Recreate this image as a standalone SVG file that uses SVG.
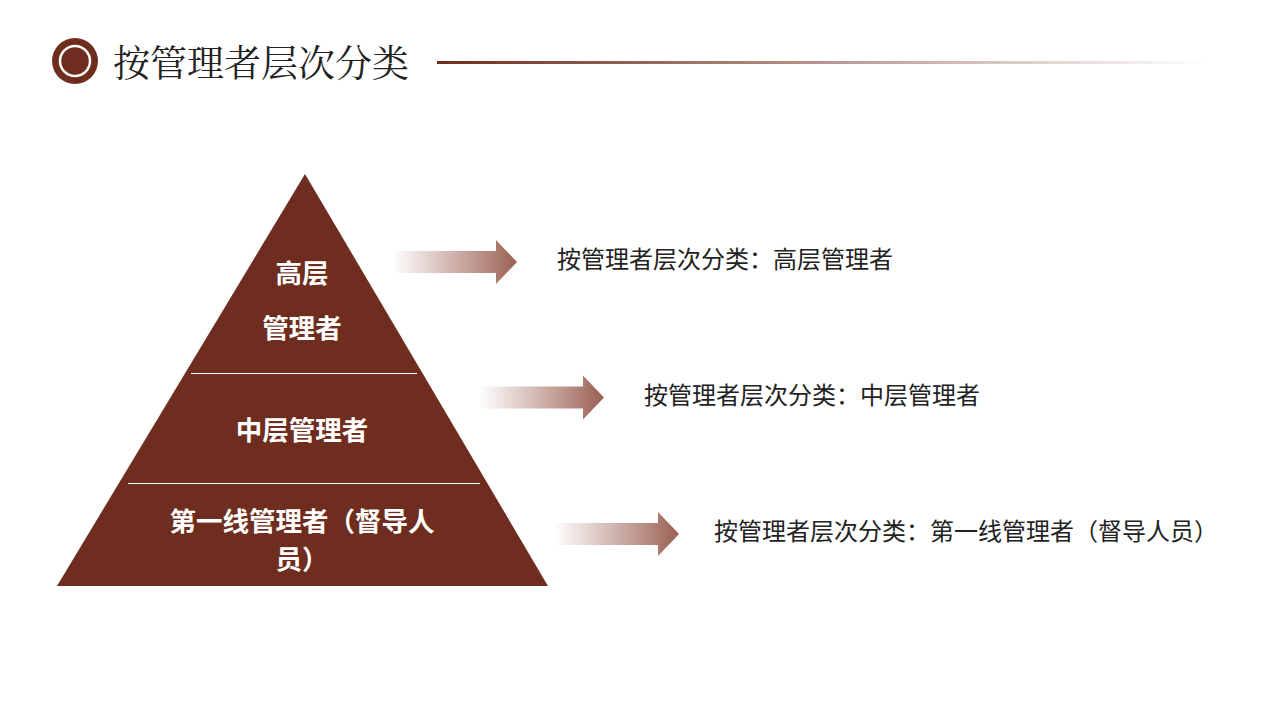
<svg xmlns="http://www.w3.org/2000/svg" width="1280" height="720" viewBox="0 0 1280 720">
<defs>
<linearGradient id="tl" x1="0" x2="1" y1="0" y2="0"><stop offset="0" stop-color="#6e2d1e"/><stop offset="1" stop-color="#6e2d1e" stop-opacity="0"/></linearGradient>
<linearGradient id="ar" x1="0" x2="1" y1="0" y2="0"><stop offset="0" stop-color="#a0695c" stop-opacity="0"/><stop offset="1" stop-color="#9a5f52"/></linearGradient>
<path id="arrow" d="M0,-11 H104 V-22 L125,0 L104,22 V11 H0 Z" fill="url(#ar)"/>
</defs>
<style>
.w{font-family:"Noto Sans CJK SC",sans-serif;font-weight:bold;fill:#fff;font-size:26.5px;text-anchor:middle}
.t{font-family:"Noto Sans CJK SC",sans-serif;fill:#222;font-size:24px}
</style>
<rect width="1280" height="720" fill="#fff"/>
<g id="title">
<circle cx="75" cy="61" r="23" fill="#6e2d1e"/>
<circle cx="75" cy="61" r="15" fill="none" stroke="#fff" stroke-width="2.5"/>
<text x="113" y="77" font-family="Noto Serif CJK SC, Liberation Serif, serif" font-size="37" fill="#222">按管理者层次分类</text>
<rect x="437" y="61" width="770" height="3" fill="url(#tl)"/>
</g>
<g id="pyramid">
<polygon points="305,174 548,586 57,586" fill="#6e2d1e"/>
<line x1="191" y1="373.5" x2="417" y2="373.5" stroke="#fff" stroke-width="1"/>
<line x1="128" y1="483.5" x2="480" y2="483.5" stroke="#fff" stroke-width="1"/>
<text class="w" x="302" y="283">高层</text>
<text class="w" x="302" y="338">管理者</text>
<text class="w" x="302" y="440">中层管理者</text>
<text class="w" x="302" y="531">第一线管理者（督导人</text>
<text class="w" x="302" y="569">员）</text>
</g>
<g id="connectors">
<use href="#arrow" x="392" y="262"/>
<use href="#arrow" x="479" y="397.5"/>
<use href="#arrow" x="554" y="534"/>
</g>
<g id="labels">
<text class="t" x="557" y="268">按管理者层次分类：高层管理者</text>
<text class="t" x="644" y="404">按管理者层次分类：中层管理者</text>
<text class="t" x="714" y="540">按管理者层次分类：第一线管理者（督导人员）</text>
</g>
</svg>
